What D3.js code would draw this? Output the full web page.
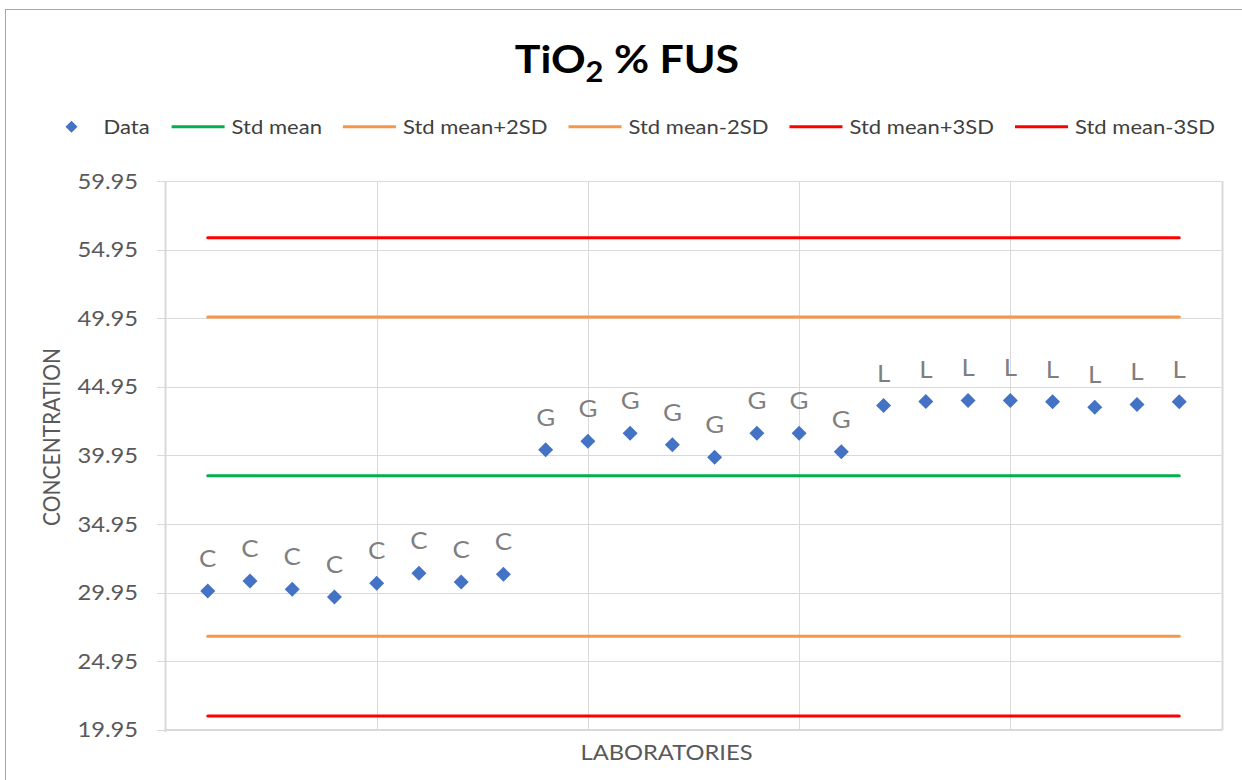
<!DOCTYPE html>
<html>
<head>
<meta charset="utf-8">
<script src="https://cdn.jsdelivr.net/npm/d3@7"></script>
<style>
  html, body { margin: 0; padding: 0; background: #fff; }
  svg { display: block; }
  text { font-family: Lato, "Open Sans", sans-serif; }
</style>
</head>
<body>
<svg id="chart" width="1242" height="780"></svg>
<script>
// ---------------- DATA ----------------
const labIndex = [1,2,3,4,5,6,7,8,9,10,11,12,13,14,15,16,17,18,19,20,21,22,23,24];
const labGroup = ["C","C","C","C","C","C","C","C","G","G","G","G","G","G","G","G","L","L","L","L","L","L","L","L"];
const concentration = [30.07,30.80,30.20,29.64,30.63,31.36,30.73,31.29,
                       40.37,40.99,41.58,40.73,39.83,41.58,41.58,40.22,
                       43.59,43.88,43.96,43.96,43.86,43.47,43.67,43.86];
const stdMean = 38.47;
const stdMeanPlus2SD = 50.04;
const stdMeanMinus2SD = 26.78;
const stdMeanPlus3SD = 55.82;
const stdMeanMinus3SD = 20.97;
const refSeriesNames = ["Std mean","Std mean+2SD","Std mean-2SD","Std mean+3SD","Std mean-3SD"];
const refSeriesValues = [stdMean, stdMeanPlus2SD, stdMeanMinus2SD, stdMeanPlus3SD, stdMeanMinus3SD];
const yTickValues = [19.95,24.95,29.95,34.95,39.95,44.95,49.95,54.95,59.95];
const xGridValues = [5,10,15,20,25];
const titleMain = "TiO";
const titleSub = "2";
const titleRest = " % FUS";
const xAxisTitle = "LABORATORIES";
const yAxisTitle = "CONCENTRATION";

// ---------------- STYLE ----------------
const refColors = ["#00B050","#F79646","#F79646","#FF0000","#FF0000"];
const markerColor = "#4472C4";
const gridColor = "#D9D9D9";
const SX = 1.13; // horizontal stretch of text glyphs

const svg = d3.select("#chart");

const x = d3.scaleLinear().domain([0, 25]).range([165.5, 1221.5]);
const y = d3.scaleLinear().domain([19.95, 59.95]).range([729.9, 181.1]);

function stext(parent, px, py, str, o) {
  const g = parent.append("g")
    .attr("transform", `translate(${px},${py}) scale(${SX},1)` + (o.rotate ? ` rotate(${o.rotate})` : ""));
  return g.append("text")
    .attr("x", 0).attr("y", 0)
    .attr("dy", o.dy || "0.36em")
    .attr("text-anchor", o.anchor || "start")
    .attr("font-size", o.size)
    .attr("font-weight", o.weight || "normal")
    .attr("fill", o.fill || "#595959")
    .text(str);
}

// outer chart border (cropped)
svg.append("rect")
  .attr("x", 5.5).attr("y", 9.5).attr("width", 1300).attr("height", 900)
  .attr("fill", "none").attr("stroke", "#A6A6A6").attr("stroke-width", 1);

// title
const tg = svg.append("g").attr("transform", `translate(627,73) scale(1.1,1)`);
const tt = tg.append("text").attr("text-anchor", "middle").attr("font-size", 39)
  .attr("font-weight", "bold").attr("fill", "#000");
tt.append("tspan").text(titleMain);
tt.append("tspan").attr("font-size", 28).attr("dy", 9).text(titleSub);
tt.append("tspan").attr("dy", -9).text(titleRest);

// gridlines
const grid = svg.append("g");
grid.selectAll("line.h").data(yTickValues).join("line")
  .attr("x1", 157).attr("x2", x(25))
  .attr("y1", d => Math.round(y(d)) + 0.5).attr("y2", d => Math.round(y(d)) + 0.5)
  .attr("stroke", gridColor).attr("stroke-width", 1);
grid.selectAll("line.v").data(xGridValues).join("line")
  .attr("x1", d => Math.round(x(d)) + 0.5).attr("x2", d => Math.round(x(d)) + 0.5)
  .attr("y1", y(59.95)).attr("y2", y(19.95))
  .attr("stroke", gridColor).attr("stroke-width", d => d === 25 ? 2 : 1);

// axes lines
svg.append("line").attr("x1", x(0)).attr("x2", x(0)).attr("y1", y(59.95)).attr("y2", y(19.95) + 2)
  .attr("stroke", gridColor).attr("stroke-width", 2);
svg.append("line").attr("x1", x(0)).attr("x2", x(25) + 1).attr("y1", y(19.95)).attr("y2", y(19.95))
  .attr("stroke", gridColor).attr("stroke-width", 2);

// y tick labels
yTickValues.forEach(v => {
  stext(svg, 138, y(v), d3.format(".2f")(v), { size: 21, anchor: "end", fill: "#595959" });
});

// axis titles
stext(svg, 666.5, 752.7, xAxisTitle, { size: 21, anchor: "middle", fill: "#595959" });
stext(svg, 51.7, 437, yAxisTitle, { size: 21, anchor: "middle", fill: "#595959", rotate: -90 });

// reference lines
const lineGen = d3.line().x(d => x(d[0])).y(d => y(d[1]));
refSeriesValues.forEach((v, i) => {
  svg.append("path")
    .attr("d", lineGen(labIndex.map(l => [l, v])))
    .attr("fill", "none").attr("stroke", refColors[i]).attr("stroke-width", 3)
    .attr("stroke-linecap", "round");
});

// data markers
const diamond = (cx, cy, r) => `M${cx},${cy - r}L${cx + r},${cy}L${cx},${cy + r}L${cx - r},${cy}Z`;
svg.append("g").selectAll("path").data(labIndex).join("path")
  .attr("d", (d, i) => diamond(x(d), y(concentration[i]), 7.5))
  .attr("fill", markerColor);

// data labels
labIndex.forEach((d, i) => {
  stext(svg, x(d), y(concentration[i]) - 24, labGroup[i], { size: 23, anchor: "middle", fill: "#7F7F7F", dy: "0" });
});

// legend
const legend = svg.append("g");
const legendY = 126.7;
let lx = 64;
{
  legend.append("path").attr("d", diamond(lx + 7.5, legendY, 6)).attr("fill", markerColor);
  const t = stext(legend, lx + 39.5, legendY, "Data", { size: 19.5, fill: "#404040" });
  lx = lx + 39.5 + t.node().getComputedTextLength() * SX + 22;
}
refSeriesNames.forEach((name, i) => {
  legend.append("line").attr("x1", lx).attr("x2", lx + 53).attr("y1", legendY).attr("y2", legendY)
    .attr("stroke", refColors[i]).attr("stroke-width", 3);
  const t = stext(legend, lx + 60, legendY, name, { size: 19.5, fill: "#404040" });
  lx = lx + 60 + t.node().getComputedTextLength() * SX + 21;
});
</script>
</body>
</html>
